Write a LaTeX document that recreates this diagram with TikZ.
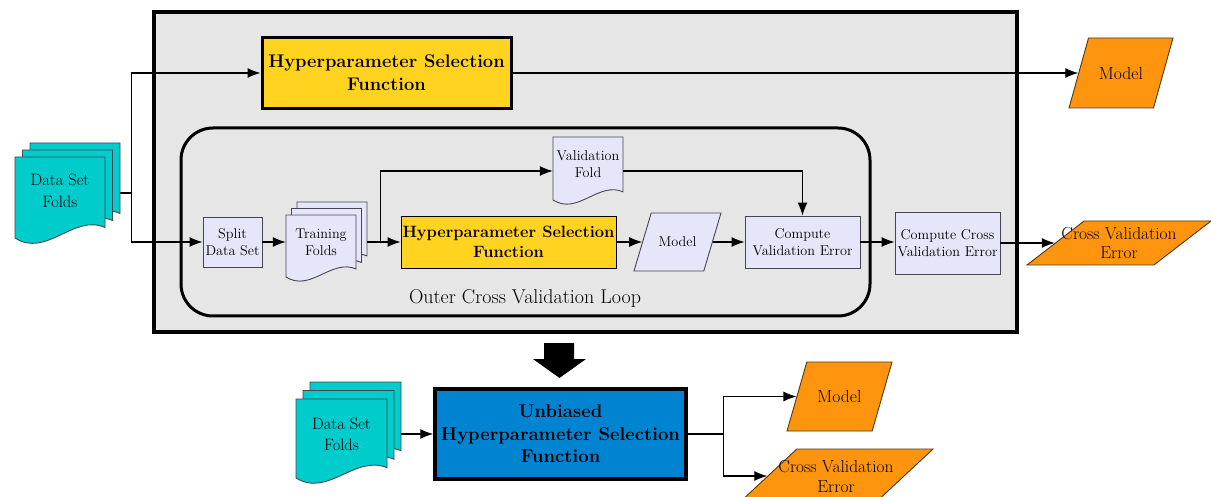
\documentclass[tikz,border=0pt]{standalone}
\usepackage{tikz}
\usetikzlibrary{arrows.meta, positioning, shapes.geometric}
\definecolor{panelgray}{RGB}{230,230,230}
\definecolor{hsfyellow}{RGB}{255,211,32}
\definecolor{steplav}{RGB}{230,230,250}
\definecolor{foldcyan}{RGB}{0,204,204}
\definecolor{outorange}{RGB}{255,149,14}
\definecolor{unbiasblue}{RGB}{0,132,209}
\definecolor{boxedge}{RGB}{70,70,80}
\definecolor{ioedge}{RGB}{80,55,20}

% one sheet of a document stack: x, y (top left), width, height, fill
\newcommand{\sheet}[5]{%
  \filldraw[fill=#5, draw=boxedge, line width=0.9pt]
    (#1,#2) -- ({#1+#3},#2) -- ({#1+#3},{#2+0.87*#4})
    .. controls ({#1+0.65*#3},{#2+0.7*#4}) and ({#1+0.35*#3},{#2+1.25*#4}) .. (#1,{#2+#4}) -- cycle;}

\tikzset{
  arr/.style={-{Latex[length=13pt,width=10pt]}, line width=1.1pt},
  stepbox/.style={draw=boxedge, fill=steplav, line width=0.9pt, inner sep=0pt, align=center,
    font=\fontsize{14.2}{17}\selectfont},
  hsfbox/.style={draw, fill=hsfyellow, line width=0.9pt, inner sep=0pt, align=center,
    font=\bfseries\fontsize{16.4}{19.5}\selectfont},
  hsfbig/.style={draw, line width=3pt, inner sep=0pt, align=center,
    font=\bfseries\fontsize{18.3}{23}\selectfont},
  iobox/.style 2 args={trapezium, trapezium stretches=true, trapezium left angle=#1,
    trapezium right angle=#2, inner sep=2pt},
  stacktext/.style={align=center, inner sep=0pt},
}

\begin{document}
\begin{tikzpicture}[x=1pt, y=-1pt]
\useasboundingbox (0,0) rectangle (1211,497);

% upper panel
\node[draw, fill=panelgray, line width=3.5pt, minimum width=863pt, minimum height=320pt] (panel) at (585.5,172) {};
\node[draw, line width=3pt, rounded corners=32pt, minimum width=689pt, minimum height=188pt] (loop) at (525.5,222) {};
\node[font=\fontsize{20}{24}\selectfont] (loopLbl) at (525,298) {Outer Cross Validation Loop};

\node[hsfbig, fill=hsfyellow, minimum width=249pt, minimum height=71pt] (hsfTop) at (386.5,73) {Hyperparameter Selection\\Function};
\node[iobox={73.3}{106.7}, draw=ioedge, fill=outorange, line width=0.9pt, minimum width=104pt, minimum height=70pt,
  label={[stacktext, font=\fontsize{17.6}{19}\selectfont]center:Model}] (modelTop) at (1121,73) {};

% data set folds
\foreach \k in {2,1,0}
  \sheet{15+\k*7.5}{157-\k*7}{90}{81}{foldcyan};
\node[minimum width=105pt, minimum height=100pt,
  label={[stacktext, xshift=-7.5pt, yshift=2pt, font=\fontsize{16.5}{21.5}\selectfont]center:Data Set\\Folds}] (folds) at (67.5,193) {};

% inner loop
\node[stepbox, minimum width=59pt, minimum height=50pt] (split) at (232.5,242) {Split\\Data Set};
\foreach \k in {2,1,0}
  \sheet{286+\k*5.5}{215-\k*6.5}{70}{62}{steplav};
\node[minimum width=81pt, minimum height=80pt,
  label={[stacktext, xshift=-5.5pt, font=\fontsize{14.2}{17}\selectfont]center:Training\\Folds}] (trainFolds) at (326.5,242) {};
\sheet{553}{137}{70}{63}{steplav}
\node[minimum width=70pt, minimum height=68pt,
  label={[stacktext, yshift=6.5pt, font=\fontsize{14.2}{17}\selectfont]center:Validation\\Fold}] (valFold) at (588,171) {};
\node[hsfbox, minimum width=215pt, minimum height=52pt] (hsfIn) at (508.5,242) {Hyperparameter Selection\\Function};
\node[iobox={71.9}{108.1}, draw=boxedge, fill=steplav, line width=0.9pt, minimum width=87pt, minimum height=58pt,
  label={[stacktext, font=\fontsize{14.2}{17}\selectfont]center:Model}] (modelIn) at (677.5,242) {};
\node[stepbox, minimum width=115pt, minimum height=52pt] (cve) at (802.5,242) {Compute\\Validation Error};
\node[stepbox, minimum width=105pt, minimum height=62pt] (ccve) at (947.5,243) {Compute Cross\\Validation Error};
\node[iobox={50.7}{129.3}, draw=ioedge, fill=outorange, line width=0.9pt, minimum width=184pt, minimum height=44pt,
  label={[stacktext, font=\fontsize{17.4}{19}\selectfont]center:Cross Validation\\Error}] (cveOut) at (1119,243) {};

% connectors
\draw[line width=1.1pt] (folds.east) -- ++(11,0) coordinate (fork);
\draw[arr] (fork) |- (hsfTop.west);
\draw[arr] (fork) |- (split.west);
\draw[arr] (hsfTop.east) -- (modelTop.west);
\draw[arr] (split.east) -- (trainFolds.west);
\draw[arr] (trainFolds.east) -- (hsfIn.west);
\draw[arr] (trainFolds.east) -- ++(13,0) |- (valFold.west);
\draw[arr] (hsfIn.east) -- (modelIn.west);
\draw[arr] (modelIn.east) -- (cve.west);
\draw[arr] (valFold.east) -| (cve.north);
\draw[arr] (cve.east) -- (cve.east -| ccve.west);
\draw[arr] (ccve.east) -- (cveOut.west);

% big arrow down
\fill (544,343) -- (574,343) -- (574,359) -- (586,359) -- (559.5,378) -- (533,359) -- (544,359) -- cycle;

% lower part
\foreach \k in {2,1,0}
  \sheet{296+\k*7}{399-\k*8.5}{91}{79}{foldcyan};
\node[minimum width=105pt, minimum height=103pt,
  label={[stacktext, xshift=-7pt, font=\fontsize{16.5}{21}\selectfont]center:Data Set\\Folds}] (foldsBot) at (348.5,434) {};
\node[hsfbig, fill=unbiasblue, line width=3.5pt, minimum width=251pt, minimum height=90pt,
  font=\bfseries\fontsize{18.5}{22.5}\selectfont] (unbiased) at (560.5,434) {Unbiased\\Hyperparameter Selection\\Function};
\node[iobox={73.1}{106.9}, draw=ioedge, fill=outorange, line width=0.9pt, minimum width=105pt, minimum height=69pt,
  label={[stacktext, font=\fontsize{17.6}{19}\selectfont]center:Model}] (modelBot) at (839.5,396.5) {};
\node[iobox={53.5}{126.5}, draw=ioedge, fill=outorange, line width=0.9pt, minimum width=194pt, minimum height=54pt,
  label={[stacktext, font=\fontsize{17.4}{20}\selectfont]center:Cross Validation\\Error}] (cveBot) at (836,476) {};

\draw[arr] (foldsBot.east) -- (unbiased.west);
\draw[line width=1.1pt] (unbiased.east) -- ++(36,0) coordinate (forkB);
\draw[arr] (forkB) |- (modelBot.west);
\draw[arr] (forkB) |- (cveBot.west);
\end{tikzpicture}
\end{document}
